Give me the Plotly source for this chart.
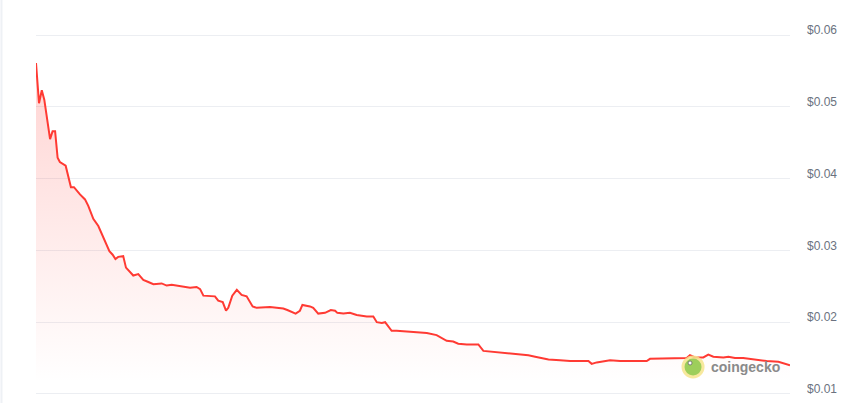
import plotly.graph_objects as go

# Time offset in days from the first sample
days = [0.00, 0.12, 0.23, 0.33, 0.56, 0.66, 0.76, 0.86, 0.95, 1.18, 1.39, 1.51, 1.75, 1.95,
        2.08, 2.28, 2.48, 2.71, 2.92, 3.05, 3.16, 3.27, 3.47, 3.58, 3.74, 3.87, 4.07, 4.27,
        4.47, 4.67, 5.00, 5.20, 5.40, 5.80, 6.13, 6.39, 6.53, 6.66, 7.12, 7.25, 7.43, 7.56,
        7.65, 7.81, 7.99, 8.18, 8.38, 8.62, 8.78, 9.31, 9.84, 10.00, 10.17, 10.33, 10.50,
        10.60, 10.90, 11.03, 11.23, 11.50, 11.73, 11.90, 11.99, 12.23, 12.49, 12.76, 13.16,
        13.42, 13.56, 13.76, 13.89, 14.15, 14.35, 14.81, 15.01, 15.55, 15.94, 16.34, 16.60,
        16.80, 17.14, 17.60, 17.80, 18.07, 18.46, 18.66, 19.13, 19.59, 19.86, 20.12, 20.39,
        20.85, 21.25, 21.98, 22.11, 22.31, 22.57, 22.84, 23.24, 23.64, 24.30, 24.43, 25.23,
        25.89, 26.02, 26.22, 26.55, 26.75, 26.95, 27.35, 27.55, 27.81, 28.14, 28.54, 29.07,
        29.54, 30.00]

# Price in USD
price = [0.0561, 0.0505, 0.0523, 0.0510, 0.0455, 0.0466, 0.0466, 0.0429, 0.0423, 0.0418,
         0.0388, 0.0388, 0.0378, 0.0371, 0.0362, 0.0344, 0.0334, 0.0315, 0.0299, 0.0294,
         0.0288, 0.0291, 0.0292, 0.0276, 0.0270, 0.0265, 0.0267, 0.0259, 0.0256, 0.0253,
         0.0254, 0.0251, 0.0252, 0.0250, 0.0248, 0.0249, 0.0246, 0.0237, 0.0236, 0.0230,
         0.0228, 0.0216, 0.0220, 0.0237, 0.0245, 0.0238, 0.0236, 0.0222, 0.0220, 0.0221,
         0.0219, 0.0217, 0.0214, 0.0212, 0.0216, 0.0224, 0.0222, 0.0220, 0.0212, 0.0213,
         0.0217, 0.0216, 0.0213, 0.0212, 0.0213, 0.0210, 0.0208, 0.0208, 0.0200, 0.0199,
         0.0200, 0.0188, 0.0188, 0.0187, 0.0186, 0.0185, 0.0182, 0.0174, 0.0173, 0.0170,
         0.0169, 0.0169, 0.0160, 0.0159, 0.0158, 0.0157, 0.0156, 0.0154, 0.0152, 0.0150,
         0.0148, 0.0147, 0.0146, 0.0146, 0.0142, 0.0144, 0.0146, 0.0147, 0.0146, 0.0146,
         0.0146, 0.0149, 0.0149, 0.0150, 0.0154, 0.0151, 0.0151, 0.0155, 0.0152, 0.0151,
         0.0152, 0.0150, 0.0150, 0.0148, 0.0146, 0.0145, 0.0140]

tick_vals = [0.01, 0.02, 0.03, 0.04, 0.05, 0.06]
tick_text = ["$0.01", "$0.02", "$0.03", "$0.04", "$0.05", "$0.06"]

LINE = "#ff3a33"

fig = go.Figure()
fig.add_trace(go.Scatter(
    x=days, y=price, mode="lines",
    line=dict(color=LINE, width=2),
    fill="tozeroy",
    fillgradient=dict(
        type="vertical",
        start=0.0115, stop=0.056,
        colorscale=[[0, "rgba(255,58,51,0.0)"], [1, "rgba(255,58,51,0.22)"]],
    ),
    hoverinfo="skip",
    showlegend=False,
))

# page border on the left
fig.add_shape(type="line", xref="paper", yref="paper",
              x0=-0.0458, x1=-0.0458, y0=-0.05, y1=1.1,
              line=dict(color="#eef1f5", width=2), layer="below")

# coingecko watermark
fig.add_shape(type="circle", xref="paper", yref="paper",
              xsizemode="pixel", ysizemode="pixel",
              xanchor=0.8714, yanchor=0.0776,
              x0=-10, x1=10, y0=-10, y1=10,
              fillcolor="#8dc63f", line=dict(color="#f6e58d", width=3),
              opacity=0.85)
fig.add_shape(type="circle", xref="paper", yref="paper",
              xsizemode="pixel", ysizemode="pixel",
              xanchor=0.8714, yanchor=0.0776,
              x0=-5, x1=-1, y0=2, y1=6,
              fillcolor="#ffffff", line=dict(color="#666666", width=0.8))
fig.add_annotation(text="<b>coingecko</b>", xref="paper", yref="paper",
                   x=0.8926, y=0.0776, xanchor="left", yanchor="middle",
                   showarrow=False,
                   font=dict(family="Liberation Sans, Arial", size=14, color="#8a8a8a"))

fig.update_layout(
    width=863, height=403,
    margin=dict(l=36, r=73, t=34, b=8),
    paper_bgcolor="white", plot_bgcolor="white",
    xaxis=dict(range=[0, 30], showgrid=False, showticklabels=False,
               zeroline=False, showline=False, fixedrange=True, automargin=False),
    yaxis=dict(range=[0.00986, 0.06014], side="right",
               tickvals=tick_vals, ticktext=tick_text,
               showgrid=True, gridcolor="#eceef2", gridwidth=1,
               zeroline=False, showline=False, ticks="",
               ticklabelstandoff=16, ticklabelshift=-5,
               ticklabeloverflow="allow", automargin=False,
               tickfont=dict(family="Liberation Sans, Arial", size=12, color="#6b7280")),
    font=dict(family="Liberation Sans, Arial"),
)

fig.write_html("out.html", config={"displayModeBar": False},
               post_script="document.body.style.margin='0';document.body.style.overflow='hidden';")
